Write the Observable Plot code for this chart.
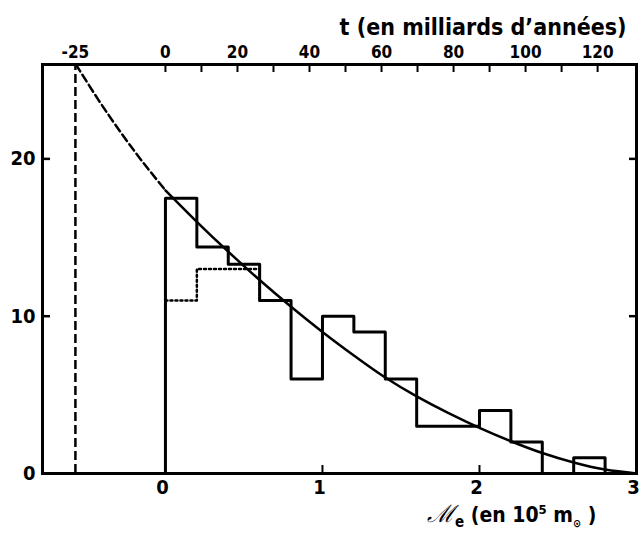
<!DOCTYPE html>
<html><head><meta charset="utf-8">
<script src="https://cdn.jsdelivr.net/npm/d3@7"></script>
<script src="https://cdn.jsdelivr.net/npm/@observablehq/plot@0.6"></script>
<style>body{margin:0;background:#fff} #chart svg{display:block}</style>
</head><body><div id="chart"></div>
<script>
// ---- data ----
const binStarts = [0, 0.2, 0.4, 0.6, 0.8, 1.0, 1.2, 1.4, 1.6, 1.8, 2.0, 2.2, 2.4, 2.6];
const binWidth = 0.2;
const counts = [17.5, 14.4, 13.3, 11, 6, 10, 9, 6, 3, 3, 4, 2, 0, 1];
const dottedCounts = [11, 13, 13];
const curveX = [0, 0.2, 0.4, 0.6, 0.8, 1.0, 1.2, 1.4, 1.6, 1.8, 2.0, 2.2, 2.4, 2.6, 2.8, 3.0];
const curveY = [18.0, 16.0, 14.1, 12.3, 10.6, 9.0, 7.5, 6.1, 4.9, 3.85, 2.9, 2.05, 1.3, 0.7, 0.25, 0];
const dashX = [-0.57, -0.43, -0.3, -0.16, 0];
const dashY = [26, 23.8, 21.9, 20.0, 18.0];
const tTicks = [0, 10, 20, 30, 40, 50, 60, 70, 80, 90, 100, 110, 120];
const tLabels = [-25, 0, 20, 40, 60, 80, 100, 120];
const tMarker = -25;
const tPerUnit = 43.6;            // milliards d'années per 10^5 m_sun
const yTicks = [0, 10, 20];
const yInnerTicks = [10, 20];
const xLabels = [0, 1, 2, 3];
const xInnerTicks = [1, 2];
const xDomain = [-0.783, 3];
const yDomain = [0, 26];
const topTitle = "t (en milliards d’années)";
const bottomTitle = "ℳe (en 10^5 m⊙)";

const tx = t => t / tPerUnit;
const stepPts = [{x: binStarts[0], y: 0},
  ...binStarts.map((b, i) => ({x: b, y: counts[i]})),
  {x: binStarts[binStarts.length - 1] + binWidth, y: 0}];
const dotPts = [...dottedCounts.map((c, i) => ({x: binStarts[i], y: c})),
  {x: binStarts[dottedCounts.length], y: counts[dottedCounts.length]}];
const curvePts = curveX.map((x, i) => ({x, y: curveY[i]}));
const dashPts = dashX.map((x, i) => ({x, y: dashY[i]}));

const font = "'Liberation Sans Narrow','DejaVu Sans Condensed','Liberation Sans',sans-serif";
const chart = Plot.plot({
  width: 642, height: 545,
  marginLeft: 42, marginRight: 6, marginTop: 64, marginBottom: 72,
  x: {domain: xDomain},
  y: {domain: yDomain},
  style: {fontFamily: font, fontWeight: "bold", background: "white", color: "black"},
  marks: [
    Plot.axisY({ticks: yTicks, anchor: "left", tickSize: 0, tickPadding: 7, fontSize: 20, tickFormat: d => String(d), label: null}),
    Plot.axisY({ticks: yInnerTicks, anchor: "left", tickSize: -8, strokeWidth: 2.5, tickFormat: () => "", label: null}),
    Plot.axisY({ticks: yInnerTicks, anchor: "right", tickSize: -8, strokeWidth: 2.5, tickFormat: () => "", label: null}),
    Plot.axisX({ticks: xLabels, anchor: "bottom", tickSize: 0, tickPadding: 6, fontSize: 20, dx: -3,
      tickFormat: d => String(d), label: null}),
    Plot.axisX({ticks: xInnerTicks, anchor: "bottom", tickSize: -8, strokeWidth: 2, tickFormat: () => "", label: null}),
    Plot.axisX({ticks: tTicks.map(tx), anchor: "top", tickSize: -7, strokeWidth: 2, tickFormat: () => "", label: null}),
    Plot.axisX({ticks: tLabels.map(tx), anchor: "top", tickSize: 0, tickPadding: 7, fontSize: 17,
      tickFormat: d => String(Math.round(d * tPerUnit)), label: null}),
    Plot.ruleX([tMarker], {x: tx, y1: yDomain[0], y2: yDomain[1], strokeWidth: 2.5, strokeDasharray: "9,4"}),
    Plot.line(dashPts, {x: "x", y: "y", curve: "natural", strokeWidth: 2.5, strokeDasharray: "8,4"}),
    Plot.line(dotPts, {x: "x", y: "y", curve: "step-after", strokeWidth: 2.5, strokeDasharray: "2,3"}),
    Plot.line(stepPts, {x: "x", y: "y", curve: "step-after", strokeWidth: 3}),
    Plot.line(curvePts, {x: "x", y: "y", curve: "natural", strokeWidth: 2.5}),
    Plot.frame({strokeWidth: 3}),
    Plot.text([topTitle], {frameAnchor: "top-right", dx: -10, dy: -46, textAnchor: "end", fontSize: 23, fontWeight: "bold"}),
    Plot.text([bottomTitle], {frameAnchor: "bottom-right", dx: -40, dy: 48, textAnchor: "end", fontSize: 21, fontWeight: "bold"})
  ]
});
document.getElementById("chart").appendChild(chart);

// rich formatting (subscripts / superscripts) for the bottom title
d3.select(chart).selectAll("text").filter(function() { return this.textContent === bottomTitle; })
  .each(function() {
    const t = d3.select(this);
    t.text(null);
    const parts = [
      {s: "ℳ", dy: 0, size: 24, family: "'DejaVu Serif'", style: "italic"},
      {s: "e", dy: 5, size: 15},
      {s: " (en 10", dy: -5, size: null},
      {s: "5", dy: -8, size: 13},
      {s: " m", dy: 8, size: null},
      {s: "⊙", dy: 5, size: 11},
      {s: " )", dy: -5, size: null}
    ];
    for (const p of parts) {
      const ts = t.append("tspan").text(p.s).attr("dy", p.dy);
      if (p.size) ts.attr("font-size", p.size);
      if (p.family) ts.attr("font-family", p.family).attr("font-weight", "normal");
      if (p.style) ts.attr("font-style", p.style);
    }
  });
</script>
</body></html>
